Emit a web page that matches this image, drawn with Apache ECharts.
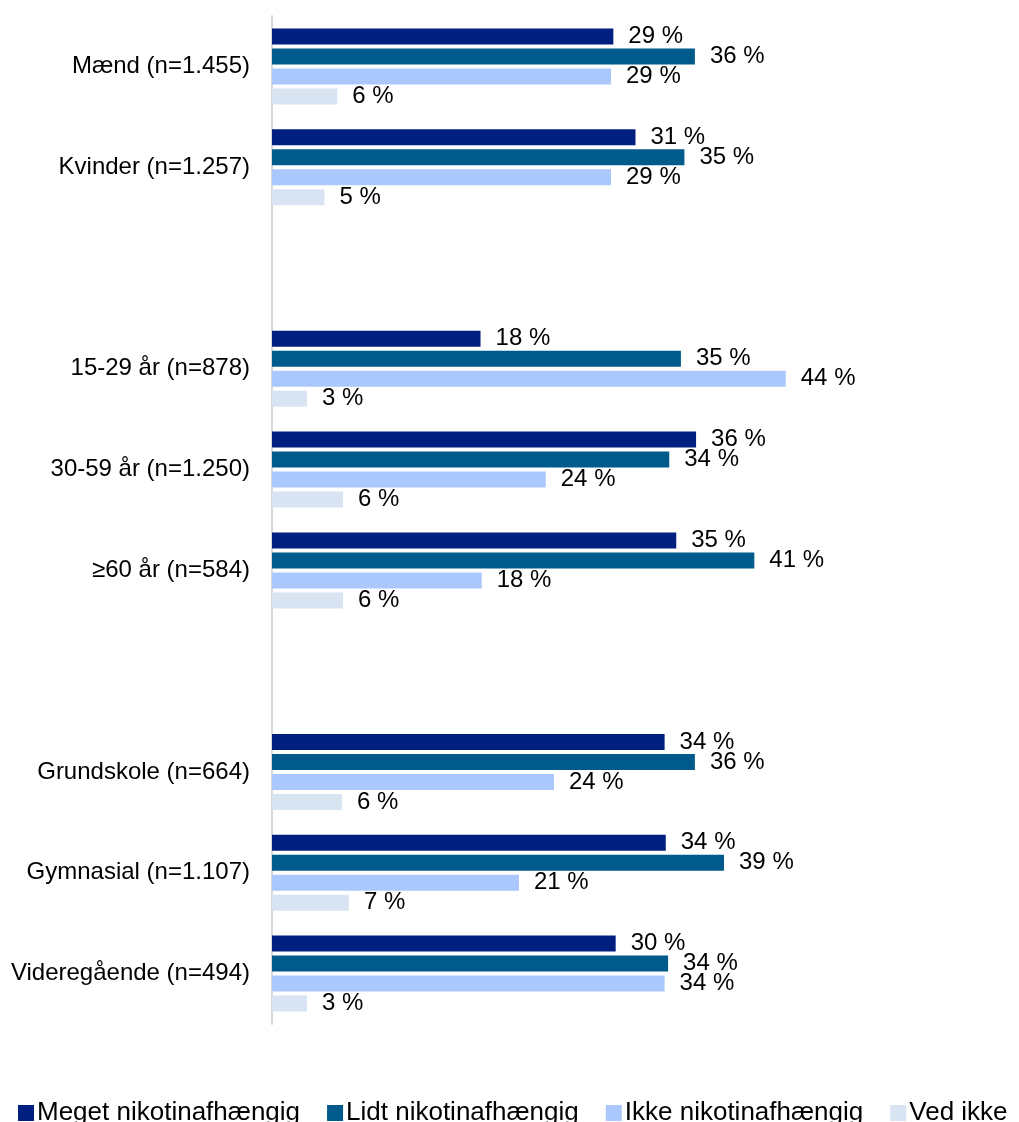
<!DOCTYPE html>
<html>
<head>
<meta charset="utf-8">
<title>Nikotinafhængighed</title>
<script src="https://cdn.jsdelivr.net/npm/echarts/dist/echarts.min.js"></script>
<style>
    html, body { margin: 0; padding: 0; background: #fff; }
    #nikotinChart { width: 1019px; height: 1122px; }
</style>
</head>
<body>
<div id="nikotinChart"></div>
<script>
// kategorier (tomme pladser = mellemrum mellem grupperne)
var kategorier = ['Mænd (n=1.455)', 'Kvinder (n=1.257)', '',
    '15-29 år (n=878)', '30-59 år (n=1.250)', '≥60 år (n=584)', '',
    'Grundskole (n=664)', 'Gymnasial (n=1.107)', 'Videregående (n=494)'];

var serieNavne = ['Meget nikotinafhængig', 'Lidt nikotinafhængig', 'Ikke nikotinafhængig', 'Ved ikke'];

// andele i procent, aflæst fra søjlerne
var meget   = [29.3, 31.2, '-', 17.9, 36.4, 34.7, '-', 33.7, 33.8, 29.5];
var lidt    = [36.3, 35.4, '-', 35.1, 34.1, 41.4, '-', 36.3, 38.8, 34.0];
var ikke    = [29.1, 29.1, '-', 44.1, 23.5, 18.0, '-', 24.2, 21.2, 33.7];
var vedIkke = [5.6, 4.5, '-', 3.0, 6.1, 6.1, '-', 6.0, 6.6, 3.0];

var farver = ['#001f80', '#005b8c', '#abc8fd', '#d8e4f2'];

window.onload = function () {
    initChart();
};

function lavSerie(navn, data, farve) {
    return {
        name: navn,
        type: 'bar',
        data: data,
        barWidth: 16,
        barGap: '25%',
        itemStyle: {
            color: farve
        },
        label: {
            show: true,
            position: 'right',
            distance: 15,
            color: '#000',
            fontSize: 24,
            fontFamily: 'Arial, "Liberation Sans", sans-serif',
            formatter: function (p) {
                return Math.round(p.value) + ' %';
            }
        }
    };
}

function initChart() {
    var myChart = echarts.init(document.getElementById('nikotinChart'));
    var option = {
        animation: false,
        textStyle: {
            fontFamily: 'Arial, "Liberation Sans", sans-serif'
        },
        legend: {
            data: serieNavne,
            left: 13,
            top: 1095,
            width: 2000,
            itemWidth: 16,
            itemHeight: 16,
            itemGap: 27,
            icon: 'rect',
            textStyle: {
                fontSize: 26,
                color: '#000',
                padding: [0, 0, 0, -2]
            }
        },
        grid: {
            left: 272,
            top: 16,
            width: 699,
            height: 1008,
            containLabel: false
        },
        xAxis: {
            type: 'value',
            min: 0,
            max: 60,
            show: false
        },
        yAxis: {
            type: 'category',
            data: kategorier,
            inverse: true,
            axisLine: {
                lineStyle: { color: '#d9d9d9', width: 2 }
            },
            axisTick: { show: false },
            axisLabel: {
                color: '#000',
                fontSize: 24,
                margin: 22
            }
        },
        series: [
            lavSerie(serieNavne[0], meget, farver[0]),
            lavSerie(serieNavne[1], lidt, farver[1]),
            lavSerie(serieNavne[2], ikke, farver[2]),
            lavSerie(serieNavne[3], vedIkke, farver[3])
        ]
    };
    myChart.setOption(option);
}
</script>
</body>
</html>
